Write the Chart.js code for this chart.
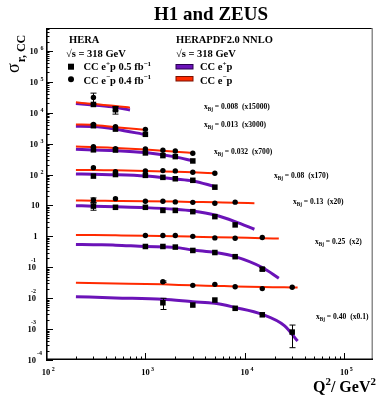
<!DOCTYPE html>
<html>
<head>
<meta charset="utf-8">
<title>H1 and ZEUS - CC</title>
<script src="https://cdn.jsdelivr.net/npm/chart.js@4.4.1/dist/chart.umd.min.js"></script>
<style>
  html, body { margin: 0; padding: 0; background: #ffffff; }
  #box { position: relative; width: 377px; height: 396px; }
</style>
</head>
<body>
<div id="box"><canvas id="cc-chart" width="377" height="396"></canvas></div>
<script>
// --- DADOS (sigma_r,CC já multiplicado pelo fator de cada bin) ---
const xBj = ['0.008', '0.013', '0.032', '0.08', '0.13', '0.25', '0.40'];
const factors = ['15000', '3000', '700', '170', '20', '2', '0.1'];

// CC e+p (quadrados)
const q2Plus = [
    [300, 500],
    [300, 500, 1000],
    [300, 500, 1000, 1500, 2000, 3000],
    [300, 500, 1000, 1500, 2000, 3000, 5000],
    [300, 500, 1000, 1500, 2000, 3000, 5000, 8000],
    [1000, 1500, 2000, 3000, 5000, 8000, 15000],
    [1500, 3000, 5000, 8000, 15000, 30000]
];
const sigPlus = [
    [18500, 12500],
    [3800, 2950, 2000],
    [630, 620, 500, 410, 380, 275],
    [89, 100, 94, 81, 73, 65, 39],
    [9.5, 8.7, 8.7, 6.9, 6.9, 6.3, 4.35, 2.35],
    [0.47, 0.47, 0.45, 0.35, 0.30, 0.22, 0.087],
    [0.0071, 0.0060, 0.0087, 0.0047, 0.0029, 0.0008]
];
const errPlus = [
    [0, 3500],
    [0, 0, 0],
    [0, 0, 0, 0, 0, 0],
    [0, 0, 0, 0, 0, 0, 0],
    [2.5, 0, 0, 0, 0, 0, 0, 0],
    [0, 0, 0, 0, 0, 0, 0.01],
    [0.0028, 0, 0, 0, 0, 0.00055]
];

// CC e-p (círculos)
const q2Minus = [
    [300, 500],
    [300, 500, 1000],
    [300, 500, 1000, 1500, 2000, 3000],
    [300, 500, 1000, 1500, 2000, 3000, 5000],
    [300, 500, 1000, 1500, 2000, 3000, 5000, 8000],
    [1000, 1500, 2000, 3000, 5000, 8000, 15000],
    [1500, 3000, 5000, 8000, 15000, 30000]
];
const sigMinus = [
    [31000, 13500],
    [4200, 3500, 2900],
    [800, 680, 670, 610, 580, 490],
    [167, 124, 131, 134, 131, 119, 110],
    [15, 16.6, 13.6, 13.6, 13.0, 12.6, 11.8, 12.8],
    [1.06, 1.06, 1.06, 1.0, 0.89, 0.87, 0.92],
    [0.034, 0.026, 0.028, 0.0235, 0.0204, 0.0225]
];
const errMinus = [
    [12000, 2000],
    [0, 0, 0],
    [0, 0, 0, 0, 0, 0],
    [0, 0, 0, 0, 0, 0, 0],
    [2.5, 0, 0, 0, 0, 0, 0, 0],
    [0, 0, 0, 0, 0, 0, 0],
    [0.002, 0, 0, 0, 0, 0]
];

// HERAPDF2.0 NNLO (curvas)
const curveQ2 = [
    [200, 300, 500, 700],
    [200, 300, 500, 1030],
    [200, 300, 500, 1000, 2000, 3000],
    [200, 300, 500, 1000, 2000, 3000, 5000],
    [200, 300, 500, 1000, 2000, 3000, 5000, 8000, 12500],
    [200, 300, 500, 1000, 2000, 3000, 5000, 8000, 15000, 22000],
    [200, 500, 1500, 3000, 5000, 8000, 15000, 25000, 34000]
];
const curvePlus = [
    [20000, 17700, 14900, 12200],
    [3630, 3550, 2930, 1920],
    [658, 625, 594, 512, 372, 277],
    [105, 102, 99, 90, 72, 62, 41],
    [9.8, 9.5, 9.1, 8.5, 7.5, 6.6, 4.9, 3.0, 1.7],
    [0.55, 0.535, 0.52, 0.47, 0.44, 0.36, 0.30, 0.22, 0.098, 0.044],
    [0.0112, 0.0102, 0.0092, 0.0077, 0.0068, 0.0050, 0.0030, 0.0013, 0.00041]
];
const curveMinus = [
    [21700, 19000, 16500, 14600],
    [4140, 4030, 3390, 2770],
    [800, 780, 725, 640, 550, 500],
    [141, 141, 137, 131, 124, 119, 110],
    [14.4, 14.2, 14.0, 13.7, 13.3, 13.0, 12.6, 12.3, 11.8],
    [1.11, 1.10, 1.08, 1.05, 1.01, 0.98, 0.94, 0.91, 0.875, 0.85],
    [0.0316, 0.030, 0.028, 0.026, 0.025, 0.024, 0.023, 0.0225, 0.022]
];

// eixos
const xDecades = [2, 3, 4, 5];
const yDecades = [-4, -3, -2, -1, 0, 1, 2, 3, 4, 5, 6];

document.addEventListener('DOMContentLoaded', () => {
    const SERIF = '"Liberation Serif", "Times New Roman", serif';
    const PURPLE = '#6b13b8';
    const RED = '#ff2a00';
    const font = (size, bold = true) => `${bold ? 'bold ' : ''}${size}px ${SERIF}`;

    // posição dos rótulos x_Bj (esquerda, linha de base)
    const labelPos = [[204, 109], [204, 127], [214, 154], [274, 178], [293, 204], [315, 244], [316, 319]];

    // texto com partes sobrescritas / subscritas
    const richText = (ctx, x, y, parts, size) => {
        let cx = x;
        parts.forEach(([txt, kind]) => {
            let s = size, dy = 0;
            if (kind === 'sup') { s = size * 0.68; dy = -size * 0.42; }
            if (kind === 'sub') { s = size * 0.68; dy = size * 0.3; }
            ctx.font = font(s);
            ctx.fillText(txt, cx, y + dy);
            cx += ctx.measureText(txt).width;
        });
        return cx;
    };

    // --- MONTA OS DATASETS ---
    const datasets = [];
    xBj.forEach((_, i) => {
        datasets.push({
            type: 'line', label: 'CC e-p ' + xBj[i], order: 2,
            data: curveQ2[i].map((q, k) => ({ x: q, y: curveMinus[i][k] })),
            borderColor: RED, borderWidth: 2, pointRadius: 0,
            cubicInterpolationMode: 'monotone', fill: false
        });
        datasets.push({
            type: 'line', label: 'CC e+p ' + xBj[i], order: 3,
            data: curveQ2[i].map((q, k) => ({ x: q, y: curvePlus[i][k] })),
            borderColor: PURPLE, borderWidth: 3, pointRadius: 0,
            cubicInterpolationMode: 'monotone', fill: false
        });
        datasets.push({
            type: 'scatter', label: 'e+p data ' + xBj[i], order: 0,
            data: q2Plus[i].map((q, k) => ({ x: q, y: sigPlus[i][k] })),
            errors: errPlus[i],
            pointStyle: 'rect', pointRadius: 3.9,
            backgroundColor: '#000', borderColor: '#000', borderWidth: 0
        });
        datasets.push({
            type: 'scatter', label: 'e-p data ' + xBj[i], order: 1,
            data: q2Minus[i].map((q, k) => ({ x: q, y: sigMinus[i][k] })),
            errors: errMinus[i],
            pointStyle: 'circle', pointRadius: 2.7,
            backgroundColor: '#000', borderColor: '#000', borderWidth: 0
        });
    });

    // --- BARRAS DE ERRO ---
    const errorBars = {
        id: 'errorBars',
        afterDatasetsDraw(chart) {
            const { ctx, scales: { x, y } } = chart;
            ctx.save();
            ctx.strokeStyle = '#000';
            ctx.lineWidth = 1;
            chart.data.datasets.forEach(ds => {
                if (!ds.errors) return;
                ds.data.forEach((p, k) => {
                    const e = ds.errors[k];
                    if (!e) return;
                    const px = Math.round(x.getPixelForValue(p.x)) + 0.5;
                    const top = y.getPixelForValue(p.y + e);
                    const bot = y.getPixelForValue(Math.max(p.y - e, 1e-6));
                    ctx.beginPath();
                    ctx.moveTo(px, top); ctx.lineTo(px, bot);
                    ctx.moveTo(px - 3, top); ctx.lineTo(px + 3, top);
                    ctx.moveTo(px - 3, bot); ctx.lineTo(px + 3, bot);
                    ctx.stroke();
                });
            });
            ctx.restore();
        }
    };

    // --- MOLDURA, TICKS, TEXTOS ---
    const decorations = {
        id: 'decorations',
        afterDraw(chart) {
            const { ctx, chartArea: a, scales: { x, y } } = chart;
            ctx.save();
            ctx.fillStyle = '#000';
            ctx.strokeStyle = '#000';

            // moldura
            ctx.lineWidth = 1;
            ctx.beginPath(); ctx.moveTo(a.left, a.top + 0.5); ctx.lineTo(a.right, a.top + 0.5); ctx.stroke();
            ctx.strokeStyle = '#8c8c8c'; ctx.lineWidth = 1.5;
            ctx.beginPath(); ctx.moveTo(a.right - 0.75, a.top); ctx.lineTo(a.right - 0.75, a.bottom); ctx.stroke();
            ctx.strokeStyle = '#000'; ctx.lineWidth = 1.6;
            ctx.beginPath();
            ctx.moveTo(a.left + 0.8, a.top); ctx.lineTo(a.left + 0.8, a.bottom - 0.8);
            ctx.lineTo(a.right, a.bottom - 0.8);
            ctx.stroke();

            // ticks do eixo x (para dentro)
            ctx.lineWidth = 1;
            xDecades.forEach(d => {
                for (let m = 1; m <= 9; m++) {
                    const v = m * Math.pow(10, d);
                    if (v < x.min || v > x.max) continue;
                    const px = Math.round(x.getPixelForValue(v)) + 0.5;
                    const len = m === 1 ? 7 : 3.5;
                    ctx.beginPath(); ctx.moveTo(px, a.bottom); ctx.lineTo(px, a.bottom - len); ctx.stroke();
                }
            });
            // ticks do eixo y
            yDecades.forEach(d => {
                for (let m = 1; m <= 9; m++) {
                    const v = m * Math.pow(10, d);
                    if (v < y.min || v > y.max) continue;
                    const py = Math.round(y.getPixelForValue(v)) + 0.5;
                    const len = m === 1 ? 7 : 3.5;
                    ctx.beginPath(); ctx.moveTo(a.left, py); ctx.lineTo(a.left + len, py); ctx.stroke();
                }
            });

            // rótulos do eixo x
            xDecades.forEach(d => {
                const px = x.getPixelForValue(Math.pow(10, d));
                ctx.font = font(8.5);
                ctx.textAlign = 'center';
                ctx.fillText('10', px, a.bottom + 15);
                ctx.textAlign = 'left';
                ctx.font = font(6);
                ctx.fillText(String(d), px + 5.7, a.bottom + 10.5);
            });

            // rótulos do eixo y
            yDecades.forEach(d => {
                const py = y.getPixelForValue(Math.pow(10, d));
                ctx.font = font(8.5);
                if (d === 0) {
                    ctx.textAlign = 'right'; ctx.fillText('1', 37.5, py + 3);
                } else if (d === 1) {
                    ctx.textAlign = 'right'; ctx.fillText('10', 39.5, py + 3);
                } else if (d > 1) {
                    ctx.textAlign = 'right'; ctx.fillText('10', 38, py + 3);
                    ctx.textAlign = 'left'; ctx.font = font(6);
                    ctx.fillText(String(d), 40.5, py - 1);
                } else {
                    ctx.textAlign = 'right'; ctx.fillText('10', 36, py + 3);
                    ctx.textAlign = 'left'; ctx.font = font(6);
                    ctx.fillText(String(d), d === -4 ? 37 : 31, py - 5.5);
                }
            });

            // título
            ctx.textAlign = 'center';
            ctx.font = font(19);
            ctx.fillText('H1 and ZEUS', 211, 20);

            // título do eixo x
            ctx.textAlign = 'left';
            richText(ctx, 313, 392, [['Q', ''], ['2', 'sup'], ['/ GeV', ''], ['2', 'sup']], 16);

            // título do eixo y (rotacionado)
            ctx.save();
            ctx.translate(18.5, 73);
            ctx.rotate(-Math.PI / 2);
            ctx.font = font(18, false);
            ctx.fillText('σ', 0, 0);
            const w = ctx.measureText('σ').width;
            ctx.font = font(12);
            ctx.fillText('r, CC', w + 1, 6.5);
            ctx.restore();

            // legenda
            ctx.textAlign = 'left';
            ctx.font = font(10.5);
            ctx.fillText('HERA', 69, 42.5);
            ctx.fillText('\u221As = 318 GeV', 66, 56.5);
            ctx.fillText('HERAPDF2.0 NNLO', 176, 42.5);
            ctx.fillText('\u221As = 318 GeV', 176, 56.5);

            ctx.fillRect(68, 63.7, 6, 6);
            ctx.beginPath(); ctx.arc(71, 79.3, 3, 0, Math.PI * 2); ctx.fill();
            richText(ctx, 83.5, 70, [['CC e', ''], ['+', 'sup'], ['p 0.5 fb', ''], ['\u22121', 'sup']], 10.5);
            richText(ctx, 83.5, 83.5, [['CC e', ''], ['\u2212', 'sup'], ['p 0.4 fb', ''], ['\u22121', 'sup']], 10.5);

            ctx.lineWidth = 1;
            ctx.fillStyle = PURPLE; ctx.fillRect(176, 64.5, 17, 4.5);
            ctx.strokeStyle = '#2a0050'; ctx.strokeRect(176, 64.5, 17, 4.5);
            ctx.fillStyle = RED; ctx.fillRect(176, 76.5, 17, 4.5);
            ctx.strokeStyle = '#7a1000'; ctx.strokeRect(176, 76.5, 17, 4.5);
            ctx.fillStyle = '#000';
            richText(ctx, 200, 70, [['CC e', ''], ['+', 'sup'], ['p', '']], 10.5);
            richText(ctx, 200, 83.5, [['CC e', ''], ['\u2212', 'sup'], ['p', '']], 10.5);

            // rótulos x_Bj
            xBj.forEach((xb, i) => {
                const [lx, ly] = labelPos[i];
                richText(ctx, lx, ly, [['x', ''], ['Bj', 'sub'], [' = ' + xb + '  (x' + factors[i] + ')', '']], 7.6);
            });

            ctx.restore();
        }
    };

    const zeroFit = (scale) => {
        if (scale.isHorizontal()) scale.height = 0; else scale.width = 0;
    };

    new Chart(document.getElementById('cc-chart').getContext('2d'), {
        type: 'scatter',
        data: { datasets },
        options: {
            responsive: false,
            animation: false,
            devicePixelRatio: 1,
            layout: { padding: { left: 46, top: 28, right: 2, bottom: 36 } },
            plugins: { legend: { display: false }, tooltip: { enabled: false }, title: { display: false } },
            scales: {
                x: {
                    type: 'logarithmic', min: 100, max: 195000,
                    ticks: { display: false }, grid: { display: false }, border: { display: false },
                    afterFit: zeroFit
                },
                y: {
                    type: 'logarithmic', min: 1e-4, max: 5.5e6,
                    ticks: { display: false }, grid: { display: false }, border: { display: false },
                    afterFit: zeroFit
                }
            }
        },
        plugins: [errorBars, decorations]
    });
});
</script>
</body>
</html>
